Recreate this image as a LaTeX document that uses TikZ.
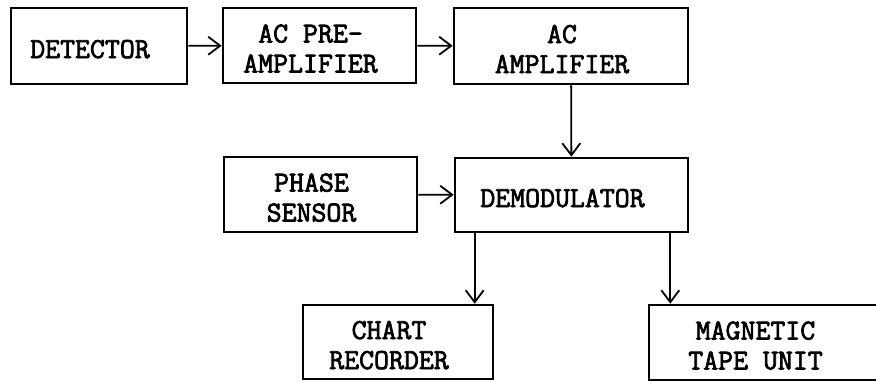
\documentclass[tikz,border=0pt]{standalone}
\usepackage{fontspec}
\newfontfamily\typefont[FakeBold=2.5]{Latin Modern Mono}
\usepackage{tikz}
\usetikzlibrary{arrows.meta,positioning,calc}
% typed labels sit a little left of and below the box centre
\newcommand{\boxtext}[1]{{\setbox\strutbox\hbox{\vrule height 13.5pt depth 1.5pt width 0pt}%
  \begin{tabular}{@{}c@{\hspace{9pt}}}#1\end{tabular}}}

\begin{document}
\begin{tikzpicture}[x=0.5pt,y=-0.5pt,
  font=\fontsize{14.5}{15}\selectfont\typefont,
  box/.style={draw=black,line width=1.3pt,inner sep=0pt},
  arr/.style={-{Straight Barb[length=6pt,width=9pt,line width=0.9pt]},line width=0.9pt}]
  \useasboundingbox (0,0) rectangle (876,382);

  \node[box,minimum width=88pt,minimum height=38pt] (detector) at (99,46)
    {\boxtext{DETECTOR}};
  \node[box,minimum width=96.5pt,minimum height=37.5pt] (preamp) at (319.5,45.5)
    {\boxtext{AC PRE-\\AMPLIFIER}};
  \node[box,minimum width=117pt,minimum height=38pt] (amp) at (571,46)
    {\boxtext{AC\\AMPLIFIER}};
  \node[box,minimum width=96.5pt,minimum height=37.5pt] (phase) at (320.5,194.5)
    {\boxtext{PHASE\\SENSOR}};
  \node[box,minimum width=116.5pt,minimum height=37pt] (demod) at (571.5,195)
    {\boxtext{DEMODULATOR}};
  \node[box,minimum width=95pt,minimum height=37pt] (chart) at (398,342)
    {\boxtext{CHART\\RECORDER}};
  \node[box,minimum width=115.5pt,minimum height=37.5pt] (tape) at (764.5,342.5)
    {\boxtext{MAGNETIC\\TAPE UNIT}};

  \draw[arr] (detector) -- (preamp);
  \draw[arr] (preamp) -- (amp);
  \draw[arr] (amp) -- (demod);
  \draw[arr] (phase) -- (demod);
  \coordinate (outA) at ([xshift=10.5pt]demod.south west);
  \coordinate (outB) at ([xshift=-9.5pt]demod.south east);
  \draw[arr] (outA) -- (outA |- chart.north);
  \draw[arr] (outB) -- (outB |- tape.north);
\end{tikzpicture}
\end{document}
